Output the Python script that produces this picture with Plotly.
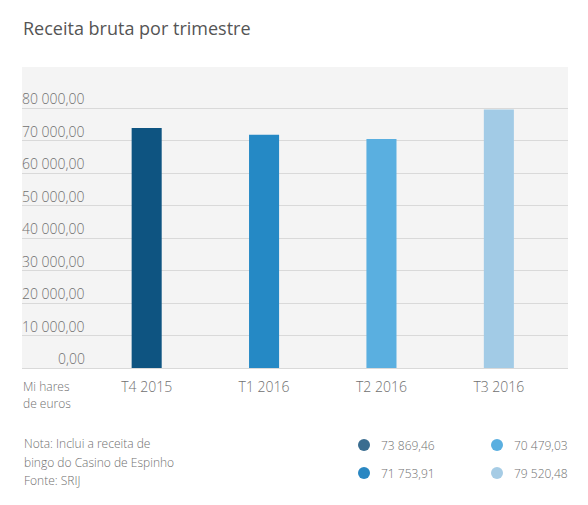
import plotly.graph_objects as go

categories = ["T4 2015", "T1 2016", "T2 2016", "T3 2016"]
values = [73869.46, 71753.91, 70479.03, 79520.48]
bar_colors = ["#0e5481", "#2589c5", "#5aafe0", "#a2cbe6"]
legend_colors = ["#3a6d90", "#2a87c2", "#5aafe0", "#a6cce5"]
y_ticks = [0, 10000, 20000, 30000, 40000, 50000, 60000, 70000, 80000]
title_text = "Receita bruta por trimestre"
unit_lines = ["Mi hares", "de euros"]
note_lines = ["Nota: Inclui a receita de", "bingo do Casino de Espinho", "Fonte: SRIJ"]

OFF = 8  # page body margin
W, H = 588 - OFF, 505 - OFF
PLOT_L, PLOT_R, PLOT_T, PLOT_B = 22, 568, 67, 368  # page pixels
L = PLOT_L - OFF
R = (W + OFF) - PLOT_R
T = PLOT_T - OFF
B = (H + OFF) - PLOT_B
PW, PH = W - L - R, H - T - B


def px_x(px):
    return (px - PLOT_L) / PW


def px_y(py):
    return (PLOT_B - py) / PH


def fmt(v):
    s = f"{v:,.2f}"
    return s.replace(",", " ").replace(".", ",")


FONT = "Open Sans, Segoe UI, sans-serif"
GREY = "#707070"

fig = go.Figure()
fig.add_trace(go.Bar(
    x=list(range(len(categories))), y=values,
    marker=dict(color=bar_colors, line=dict(width=0)),
    width=0.256, hoverinfo="skip"
))

annotations = []
for t in y_ticks:
    annotations.append(dict(
        x=px_x(87), xref="paper", y=t, yref="y", xanchor="right", yanchor="bottom",
        yshift=-2, text=fmt(t), showarrow=False,
        font=dict(family=FONT, size=14, color=GREY, weight=300)
    ))

annotations.append(dict(
    x=px_x(21), xref="paper", y=px_y(28), yref="paper", xanchor="left", yanchor="middle",
    text=title_text, showarrow=False, font=dict(family=FONT, size=18, color="#555555")
))
for i, line in enumerate(unit_lines):
    annotations.append(dict(
        x=px_x(21), xref="paper", y=px_y(386 + 17 * i), yref="paper",
        xanchor="left", yanchor="middle", text=line, showarrow=False,
        font=dict(family=FONT, size=12, color=GREY, weight=300)
    ))
for i, line in enumerate(note_lines):
    annotations.append(dict(
        x=px_x(22), xref="paper", y=px_y(444 + 18 * i), yref="paper",
        xanchor="left", yanchor="middle", text=line, showarrow=False,
        font=dict(family=FONT, size=12, color=GREY, weight=300)
    ))

shapes = []
legend_pos = [(364, 445), (364, 473), (497, 445), (497, 473)]
for (cx, cy), col, v in zip(legend_pos, legend_colors, values):
    r = 6
    shapes.append(dict(
        type="circle", xref="paper", yref="paper",
        x0=px_x(cx - r), x1=px_x(cx + r), y0=px_y(cy + r), y1=px_y(cy - r),
        fillcolor=col, line=dict(width=0)
    ))
    annotations.append(dict(
        x=px_x(cx + 15), xref="paper", y=px_y(cy), yref="paper",
        xanchor="left", yanchor="middle", text=fmt(v), showarrow=False,
        font=dict(family=FONT, size=12, color=GREY, weight=300)
    ))

fig.update_layout(
    width=W, height=H,
    margin=dict(l=L, r=R, t=T, b=B),
    paper_bgcolor="white", plot_bgcolor="#f4f4f4",
    showlegend=False,
    annotations=annotations, shapes=shapes,
    xaxis=dict(
        range=[-1.062, 3.589], tickmode="array",
        tickvals=list(range(len(categories))), ticktext=categories,
        showgrid=False, zeroline=False, showline=False, ticks="",
        ticklabelstandoff=9,
        tickfont=dict(family=FONT, size=14, color=GREY, weight=300), fixedrange=True
    ),
    yaxis=dict(
        range=[0, 92615], tickmode="array", tickvals=y_ticks,
        showticklabels=False, showgrid=True, gridcolor="#d9d9d9", gridwidth=1,
        zeroline=True, zerolinecolor="#d9d9d9", zerolinewidth=1,
        showline=False, ticks="", fixedrange=True
    ),
)

fig.write_html("out.html")
